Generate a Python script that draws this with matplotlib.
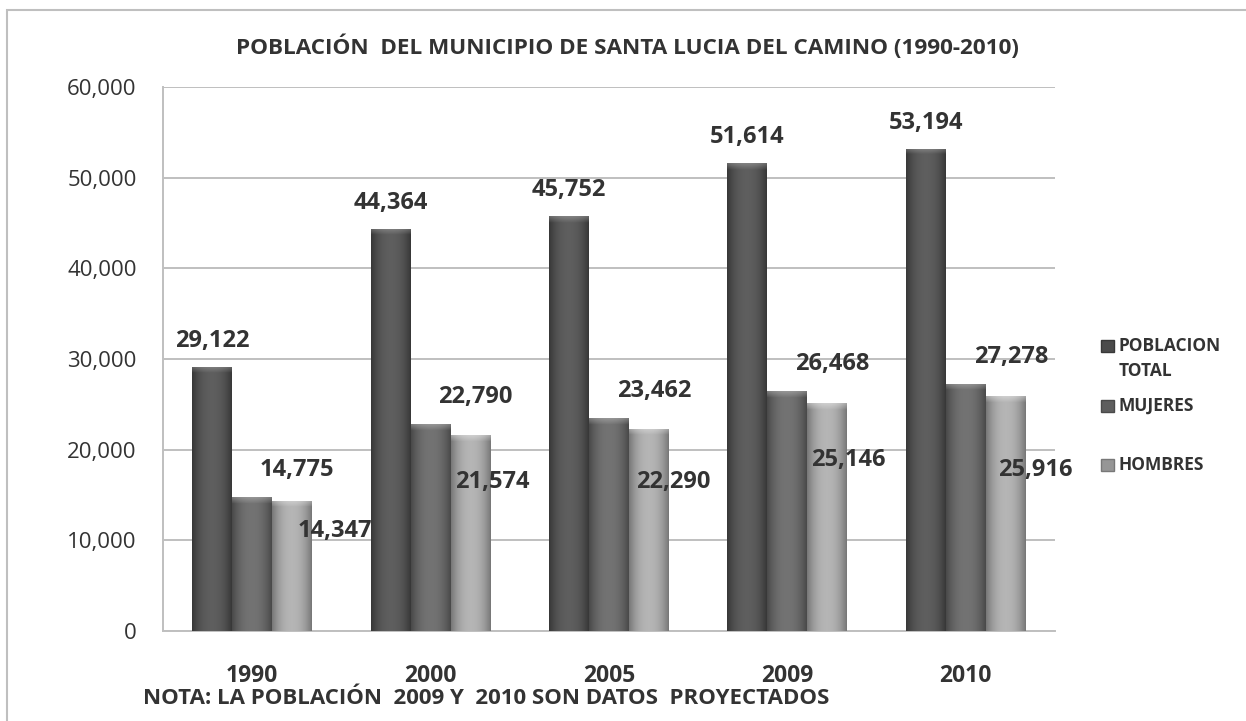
"""Poblacion del municipio de Santa Lucia del Camino, 1990-2010."""

import numpy as np
import matplotlib

matplotlib.use("Agg")

import matplotlib.pyplot as plt
from matplotlib.patches import Rectangle
from matplotlib.ticker import FuncFormatter

plt.rcParams["font.family"] = ["Open Sans", "DejaVu Sans"]

# data
years = ["1990", "2000", "2005", "2009", "2010"]
poblacion_total = [29122, 44364, 45752, 51614, 53194]
mujeres = [14775, 22790, 23462, 26468, 27278]
hombres = [14347, 21574, 22290, 25146, 25916]
series_names = ["POBLACION\nTOTAL", "MUJERES", "HOMBRES"]
y_ticks = [0, 10000, 20000, 30000, 40000, 50000, 60000]

title = "POBLACIÓN  DEL MUNICIPIO DE SANTA LUCIA DEL CAMINO (1990-2010)"
note = "NOTA: LA POBLACIÓN  2009 Y  2010 SON DATOS  PROYECTADOS"

# layout / style
W, H = 1246, 721
BAR_W = 0.224
TEXT = "#333333"
GRID = "#bfbfbf"
# (edge shade, centre shade) for each series
shades = [(0.22, 0.37), (0.29, 0.45), (0.47, 0.71)]
# manual offsets (pixels) of the HOMBRES labels, as placed in the original
hombres_label_shift = [(43, -30), (22, -47), (24, -53), (21, -57), (30, -74)]


def fx(px):
    return px / W


def fy(py):
    return 1 - py / H


def shade_bar(ax, patch, edge, centre):
    x0, y0 = patch.get_x(), patch.get_y()
    w, h = patch.get_width(), patch.get_height()
    nx_, ny_ = 48, 600
    t = np.linspace(-1, 1, nx_)
    prof = 1 - np.abs(t) ** 2.2
    row = edge + (centre - edge) * prof
    img = np.repeat(row[None, :], ny_, axis=0)
    bar_px = h / 60000 * 544
    ncap = max(1, int(round(ny_ * 6 / bar_px)))
    fade = np.linspace(0.35, 0.05, ncap)[:, None]
    img[:ncap] = img[:ncap] * (1 - fade) + fade * min(1.0, centre + 0.4)
    rgb = np.dstack([img, img, img])
    im = ax.imshow(rgb, extent=[x0, x0 + w, y0, y0 + h], aspect="auto",
                   origin="upper", interpolation="bilinear", zorder=3)
    im.set_clip_path(patch)


fig = plt.figure(figsize=(W / 100, H / 100), dpi=100)
ax = fig.add_axes([fx(163), fy(631), fx(1055) - fx(163), fy(87) - fy(631)])

x = np.arange(len(years))
series = [poblacion_total, mujeres, hombres]
offsets = [-BAR_W, 0, BAR_W]

for values, off, (edge, centre) in zip(series, offsets, shades):
    bars = ax.bar(x + off, values, width=BAR_W, color=str(edge), zorder=2,
                  linewidth=0)
    for patch in bars:
        shade_bar(ax, patch, edge, centre)

# data labels
label_kw = dict(textcoords="offset pixels", ha="center", va="center",
                fontsize=17, fontweight="bold", color=TEXT, zorder=5)
for i in range(len(years)):
    ax.annotate(f"{poblacion_total[i]:,}", (x[i] - BAR_W, poblacion_total[i]),
                xytext=(0, 26), **label_kw)
    ax.annotate(f"{mujeres[i]:,}", (x[i] + BAR_W, mujeres[i]),
                xytext=(5, 27), **label_kw)
    dx, dy = hombres_label_shift[i]
    ax.annotate(f"{hombres[i]:,}", (x[i] + BAR_W, hombres[i]),
                xytext=(dx, dy), **label_kw)

ax.set_xlim(-0.5, len(years) - 0.5)
ax.set_ylim(0, 60000)
ax.set_yticks(y_ticks)
ax.yaxis.set_major_formatter(FuncFormatter(lambda v, _: f"{int(v):,}"))
ax.set_xticks(x)
ax.set_xticklabels(years, fontweight="bold")
ax.tick_params(axis="y", length=0, pad=19, labelsize=16, labelcolor=TEXT)
ax.tick_params(axis="x", length=0, pad=24, labelsize=16.5, labelcolor=TEXT)
ax.grid(axis="y", color=GRID, linewidth=1.4, zorder=0)
ax.set_axisbelow(True)
for side in ["top", "right"]:
    ax.spines[side].set_visible(False)
for side in ["left", "bottom"]:
    ax.spines[side].set_color(GRID)
    ax.spines[side].set_linewidth(1.4)

# title and note
fig.text(fx(627), fy(47), title, ha="center", va="center", fontsize=16.2,
         fontweight="bold", color=TEXT)
fig.text(fx(143), fy(698), note, ha="left", va="center", fontsize=16,
         fontweight="bold", color=TEXT)

# legend, drawn by hand to keep the original spacing
legend_y = [346, 406, 465]
for name, ly, (edge, centre) in zip(series_names, legend_y, shades):
    fig.add_artist(Rectangle((fx(1101), fy(ly + 6)), 13 / W, 12 / H,
                             transform=fig.transFigure,
                             facecolor=str((edge + centre) / 2),
                             edgecolor=str(edge), linewidth=1))
    for k, line in enumerate(name.split("\n")):
        fig.text(fx(1119), fy(ly + 25 * k), line, ha="left", va="center",
                 fontsize=12.5, fontweight="bold", color=TEXT)

# chart border
fig.add_artist(Rectangle((fx(7), -0.1), 1.2, fy(10) + 0.1,
                         transform=fig.transFigure, fill=False,
                         edgecolor=GRID, linewidth=1.5))

fig.savefig("out.png", dpi=100)
